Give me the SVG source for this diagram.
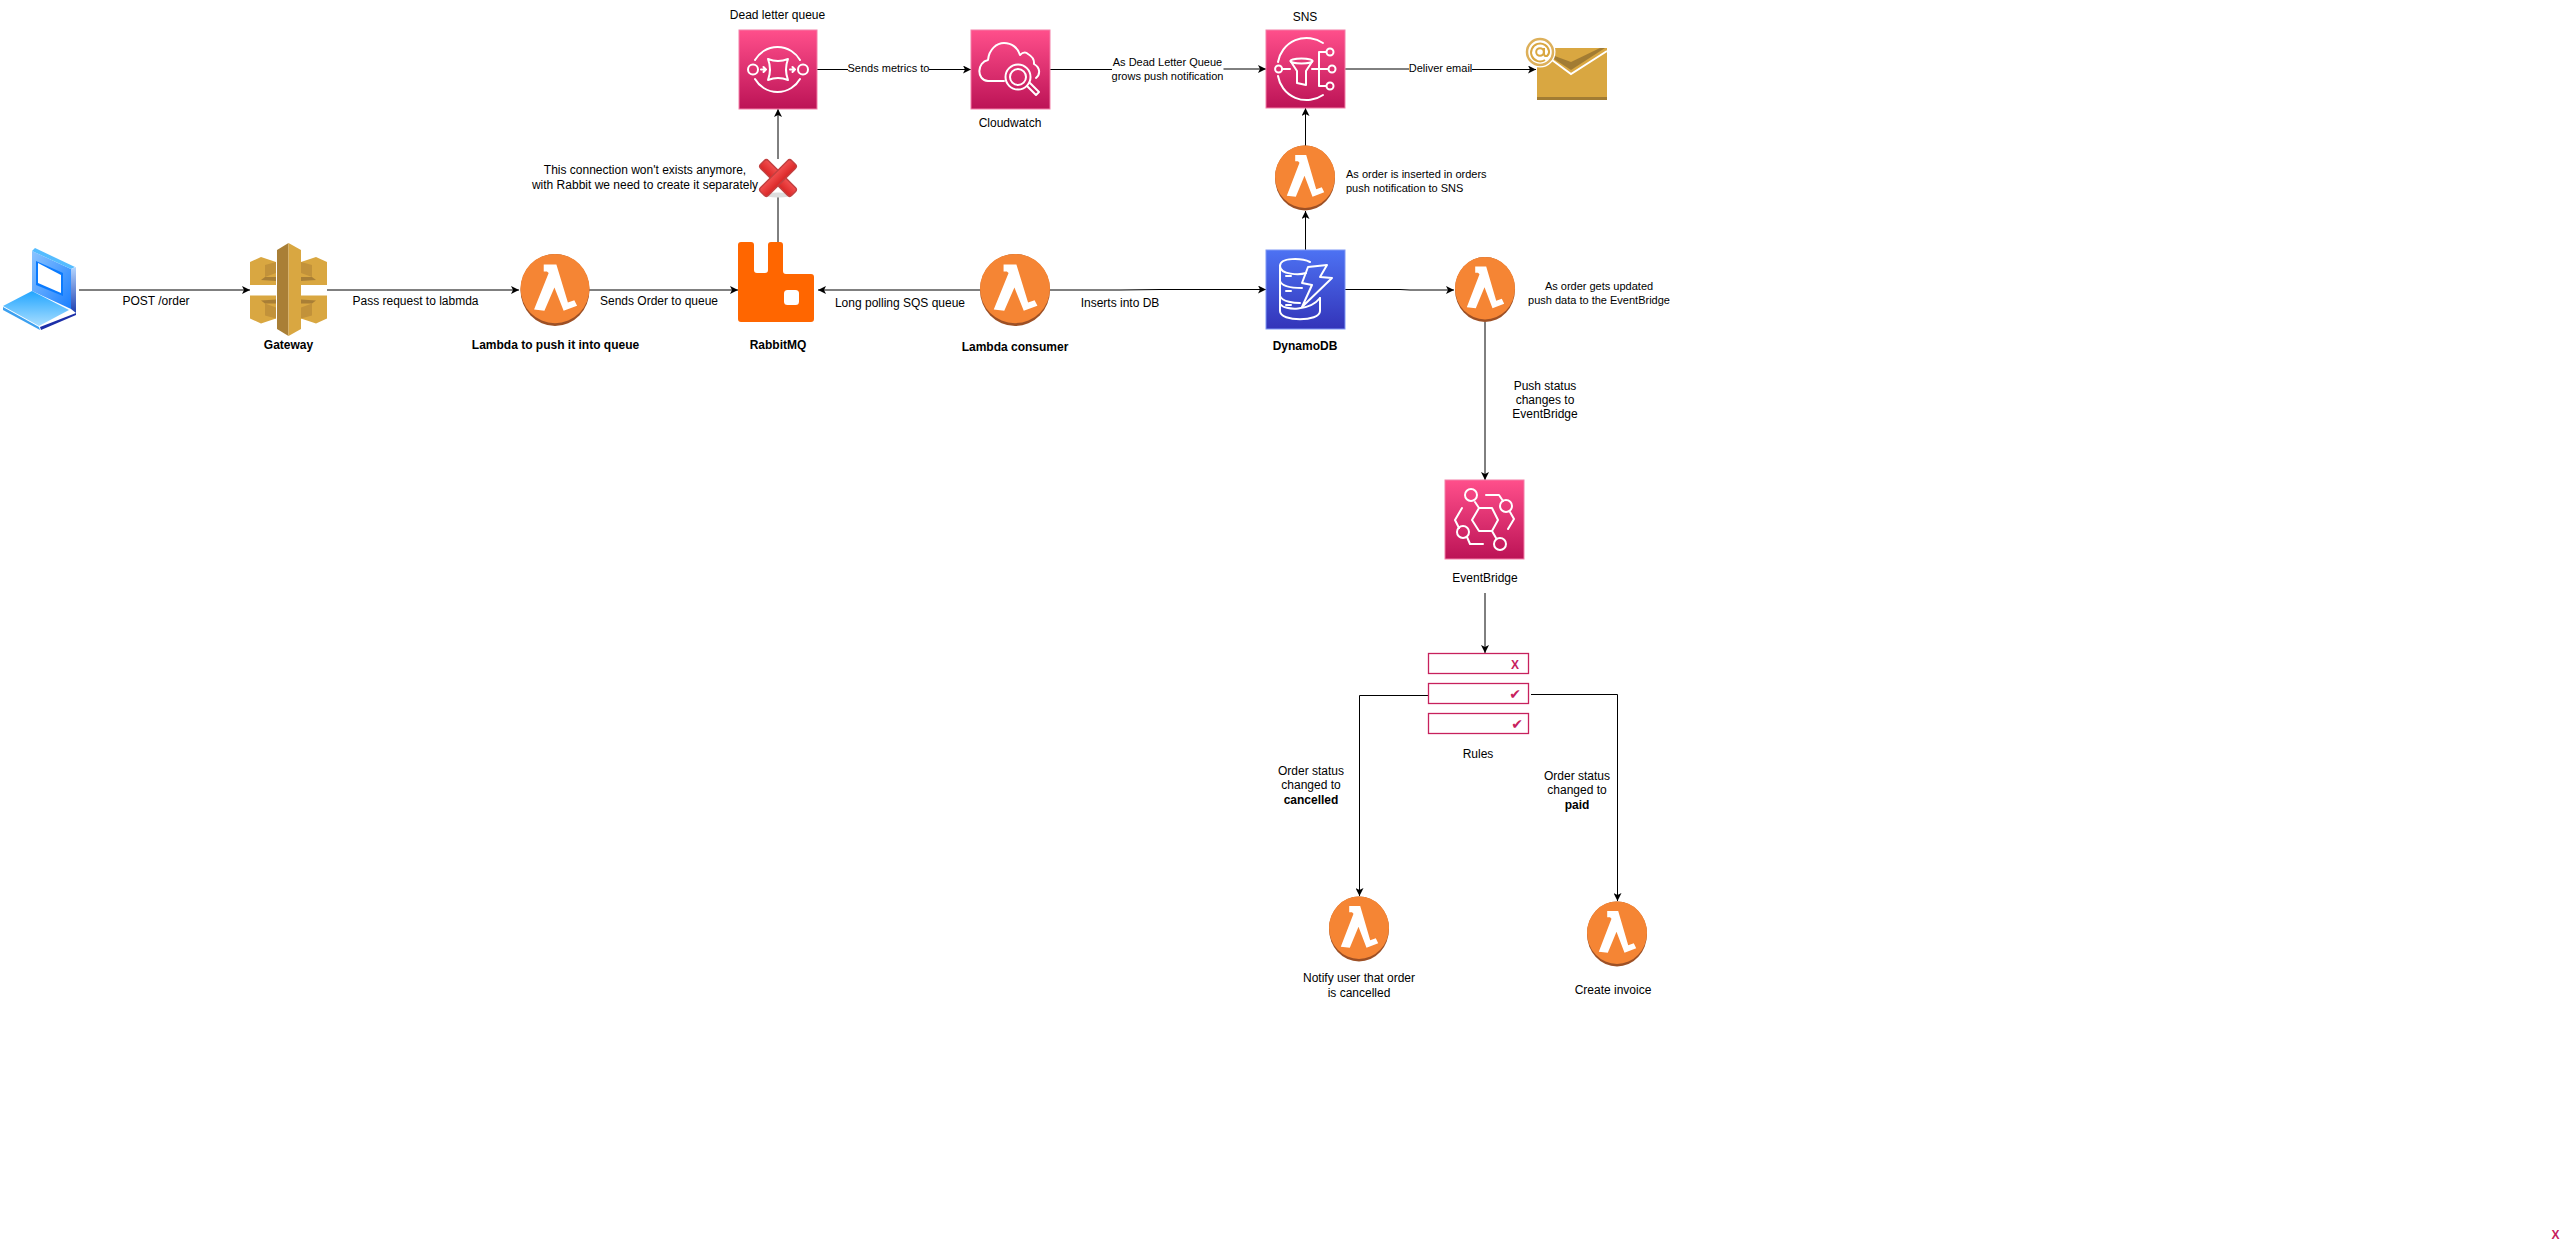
<svg xmlns="http://www.w3.org/2000/svg" xmlns:xlink="http://www.w3.org/1999/xlink" width="2571" height="1251" viewBox="0 0 2571 1251">
<style>
text{font-family:"Liberation Sans",Arial,sans-serif;font-size:12px;fill:#000;text-anchor:middle}
.b{font-weight:bold}
.s{font-size:11px}
.l{text-anchor:start}
.c{fill:none;stroke:#000;stroke-width:1;marker-end:url(#ah)}
.ic{fill:none;stroke:#fff;stroke-width:2;stroke-linejoin:round;stroke-linecap:round}
.pink{fill:url(#gp);stroke:#f47fa8;stroke-width:1}
.rule{fill:#fff;stroke:#C7215D;stroke-width:1.3}
.mk{fill:#C7215D;font-weight:bold}
.ck{font-family:"DejaVu Sans",sans-serif;font-size:14px;font-weight:bold;fill:#C7215D}
</style>
<defs>
<marker id="ah" markerUnits="userSpaceOnUse" markerWidth="8" markerHeight="8" refX="8" refY="4" orient="auto"><path d="M8,4 L0,0 L2,4 L0,8 Z" fill="#000"/></marker>
<linearGradient id="gp" x1="0" y1="0" x2="0" y2="1"><stop offset="0" stop-color="#FF4F8B"/><stop offset="1" stop-color="#BC1356"/></linearGradient>
<linearGradient id="gb" x1="0" y1="0" x2="0" y2="1"><stop offset="0" stop-color="#4D72F3"/><stop offset="1" stop-color="#3334B9"/></linearGradient>
<linearGradient id="lp1" x1="0" y1="0" x2="1" y2="1"><stop offset="0" stop-color="#8CC4FF"/><stop offset="1" stop-color="#1A7FFF"/></linearGradient>
<linearGradient id="lp2" x1="0" y1="0" x2="0" y2="1"><stop offset="0" stop-color="#B5D6FF"/><stop offset="1" stop-color="#1F3FB0"/></linearGradient>
<linearGradient id="lp3" x1="0" y1="0" x2="0" y2="1"><stop offset="0" stop-color="#22A5FF"/><stop offset="1" stop-color="#A8DEFF"/></linearGradient>
<linearGradient id="xr" x1="0" y1="0" x2="0" y2="1"><stop offset="0" stop-color="#F25050"/><stop offset="1" stop-color="#D92525"/></linearGradient>
<g id="lam">
<ellipse cx="0" cy="0" rx="30" ry="32.5" fill="#9D5025"/>
<ellipse cx="0" cy="-1.3" rx="30" ry="31.2" fill="#F58534"/>
<path fill="#fff" d="M-9.8,-23 L1.2,-23 L11.2,11.3 L16.8,9.3 L19.2,14.3 L7.5,18.7 L-.5,-2.3 L-9.2,18.7 L-18.2,17.7 L-5.5,-15.3 L-7,-16.7 L-9.8,-16.7 Z"/>
</g>
<g id="arm">
<path fill="#D9A741" d="M301,262 L316,257 L327,262 L327,285 L301,285 Z"/>
<path fill="#C2923A" d="M301,262 L312,265 L312,277 L301,273 Z"/>
<path fill="#A97F36" d="M301,277 L312,277 L316,280 L301,281 Z"/>
</g>
</defs>
<rect width="2571" height="1251" fill="#fff"/>

<g id="connectors">
<path class="c" d="M79,290 L250,290"/>
<path class="c" d="M327,290 L519,290"/>
<path class="c" d="M589,290 L738,290"/>
<path class="c" d="M778,242 L778,109"/>
<path class="c" d="M980,290 L818,290"/>
<path class="c" d="M1050,290 L1120,290 L1160,289.5 L1266,289.5"/>
<path class="c" d="M817,69.5 L971,69.5"/>
<path class="c" d="M1050,69.5 L1150,69.5 L1170,69 L1266,69"/>
<path class="c" d="M1345,69 L1440,69 L1460,69.5 L1536,69.5"/>
<path class="c" d="M1305.5,146 L1305.5,108"/>
<path class="c" d="M1305.5,250 L1305.5,211"/>
<path class="c" d="M1345,289.5 L1400,289.5 L1410,290 L1454,290"/>
<path class="c" d="M1485,322 L1485,480"/>
<path class="c" d="M1485,593 L1485,653"/>
<path class="c" d="M1428,695.5 L1359.5,695.5 L1359.5,896"/>
<path class="c" d="M1531,694.5 L1617.5,694.5 L1617.5,901"/>
</g>

<g id="connector-labels">
<rect x="848" y="60" width="81" height="16" fill="#fff"/>
<text x="888.500" y="72" class="s">Sends metrics to</text>
<rect x="1112" y="54" width="111.500" height="30" fill="#fff"/>
<text x="1167.500" y="66" class="s">As Dead Letter Queue</text>
<text x="1167.500" y="80" class="s">grows push notification</text>
<rect x="1409" y="60" width="63" height="16" fill="#fff"/>
<text x="1440.500" y="72" class="s">Deliver email</text>
<text x="156" y="305">POST /order</text>
<text x="415.500" y="305">Pass request to labmda</text>
<text x="659" y="305">Sends Order to queue</text>
<text x="900" y="307">Long polling SQS queue</text>
<text x="1120" y="307">Inserts into DB</text>
<text x="1545" y="390">Push status</text>
<text x="1545" y="404">changes to</text>
<text x="1545" y="418">EventBridge</text>
<text x="1311" y="775">Order status</text>
<text x="1311" y="789">changed to</text>
<text x="1311" y="804" class="b">cancelled</text>
<text x="1577" y="780">Order status</text>
<text x="1577" y="794">changed to</text>
<text x="1577" y="809" class="b">paid</text>
</g>

<g id="client">
<path fill="url(#lp1)" d="M32,251 L71,269 L71,309 L32,291 Z"/>
<path fill="#0A7BFF" d="M36,261 L63,273 L63,296 L36,285 Z"/>
<path fill="#fff" d="M38,263 L61,275 L61,293 L38,283 Z"/>
<path fill="#55BCFF" d="M35,248 L75,267 L71,269 L32,251 Z"/>
<path fill="url(#lp2)" d="M71,269 L76,267 L76,313 L71,309 Z"/>
<path fill="url(#lp3)" d="M32,291 L3,306 L39,326 L69,310 Z"/>
<path fill="#3CA0F0" d="M3,307 L39,327 L40,330 L3,310 Z"/>
<path fill="#1C2FA8" d="M40,327 L76,313 L76,315 L41,330 Z"/>
</g>

<g id="gateway">
<use xlink:href="#arm" href="#arm"/>
<use xlink:href="#arm" href="#arm" transform="translate(577,0) scale(-1,1)"/>
<use xlink:href="#arm" href="#arm" transform="translate(0,580.500) scale(1,-1)"/>
<use xlink:href="#arm" href="#arm" transform="translate(577,580.500) scale(-1,-1)"/>
<path fill="#A97F36" d="M277,250 L288.500,243 L288.500,336 L277,329 Z"/>
<path fill="#D9A741" d="M301,250 L288.500,243 L288.500,336 L301,329 Z"/>
<text x="288.500" y="349" class="b">Gateway</text>
</g>

<g id="lambda-push">
<use xlink:href="#lam" href="#lam" transform="translate(555,290) scale(1.15,1.108)"/>
<text x="555.500" y="349" class="b">Lambda to push it into queue</text>
</g>

<g id="rabbitmq">
<path fill="#FF6600" d="M741,242 L751,242 Q754,242 754,245 L754,270 Q754,273 757,273 L765,273 Q768,273 768,270 L768,245 Q768,242 771,242 L780,242 Q783,242 783,245 L783,271 Q783,274 786,274 L811,274 Q814,274 814,277 L814,319 Q814,322 811,322 L741,322 Q738,322 738,319 L738,245 Q738,242 741,242 Z"/>
<rect x="784" y="290" width="15" height="15" rx="3.500" fill="#fff"/>
<text x="778" y="349" class="b">RabbitMQ</text>
</g>

<g id="lambda-consumer">
<use xlink:href="#lam" href="#lam" transform="translate(1015,290) scale(1.167,1.108)"/>
<text x="1015" y="351" class="b">Lambda consumer</text>
</g>

<g id="dynamodb">
<rect x="1266" y="250" width="79" height="79" fill="url(#gb)" stroke="#7F97F5" stroke-width="1"/>
<g class="ic">
<path d="M1310,262 C1302,258 1280,257 1280,266 L1280,311 C1280,322 1320,322 1320,311 L1320,298"/>
<path d="M1280,266 C1280,275 1300,275 1306,273"/>
<path d="M1280,281 C1282,287 1295,288 1302,288"/>
<path d="M1280,296 C1282,302 1295,303 1300,303"/>
<path d="M1280,304 C1285,311 1310,311 1320,298"/>
<path d="M1286,276 L1291,276 M1286,291 L1291,291 M1286,305 L1291,305"/>
<path d="M1308,267 L1327,265 L1320,277 L1332,278 L1302,307 L1312,285 L1302,283 Z"/>
</g>
<text x="1305" y="350" class="b">DynamoDB</text>
</g>

<g id="lambda-update">
<use xlink:href="#lam" href="#lam"  transform="translate(1485,289.500)"/>
<text x="1599" y="290" class="s">As order gets updated</text>
<text x="1599" y="304" class="s">push data to the EventBridge</text>
</g>

<g id="lambda-sns">
<use xlink:href="#lam" href="#lam" transform="translate(1305,178)"/>
<text x="1346" y="178" class="s l">As order is inserted in orders</text>
<text x="1346" y="192" class="s l">push notification to SNS</text>
</g>

<g id="cross">
<rect x="761" y="159" width="34" height="38" fill="#fff"/>
<ellipse cx="778" cy="195" rx="14" ry="2.500" fill="#ddd"/>
<g fill="url(#xr)" stroke="#C24040" stroke-width="1.500">
<rect x="756" y="172.500" width="44" height="11" rx="3" transform="rotate(45 778 178)"/>
<rect x="756" y="172.500" width="44" height="11" rx="3" transform="rotate(-45 778 178)"/>
</g>
<text x="645" y="174">This connection won't exists anymore,</text>
<text x="645" y="189">with Rabbit we need to create it separately</text>
</g>

<g id="sqs">
<rect class="pink" x="739" y="30" width="78" height="79"/>
<g class="ic">
<path d="M755,60 A26,26 0 0 1 800,60"/>
<path d="M755,79 A26,26 0 0 0 800,79"/>
<circle cx="753" cy="69.500" r="5"/>
<circle cx="803" cy="69.500" r="5"/>
<path d="M768,59 Q778,63 788,59 Q784,69.500 788,80 Q778,76 768,80 Q772,69.500 768,59 Z"/>
<path d="M761,69.500 L766,69.500 M763.500,67 L766,69.500 L763.500,72 M790,69.500 L795,69.500 M792.500,67 L795,69.500 L792.500,72"/>
</g>
<text x="777.500" y="19">Dead letter queue</text>
</g>

<g id="cloudwatch">
<rect class="pink" x="971" y="30" width="79" height="79"/>
<g class="ic">
<path d="M1004,81 L988,81 C976,80 977,62 988,60 C989,49 997,43 1004,43 C1012,43 1018,48 1020,55 C1023,52 1026,52 1028,54 C1035,58 1034,63 1034,64 C1041,68 1040,75 1036,78"/>
<circle cx="1018" cy="77" r="12.500"/>
<circle cx="1018" cy="77" r="8"/>
<path d="M1027,86 L1036,95 L1039,92 L1030,83"/>
</g>
<text x="1010" y="127">Cloudwatch</text>
</g>

<g id="sns">
<rect class="pink" x="1266" y="30" width="79" height="78"/>
<g class="ic">
<path d="M1323,43 A29,29 0 0 0 1278,62 M1278,76 A29,29 0 0 0 1323,95"/>
<circle cx="1278.600" cy="69" r="3.500"/>
<path d="M1282,69 L1290,69"/>
<ellipse cx="1301.500" cy="61" rx="11" ry="2.500"/>
<path d="M1290.500,61 L1297,71 L1297,83 L1306,85 L1306,71 L1312.500,61"/>
<path d="M1312,69 L1328,69 M1319,52 L1319,86 M1319,52 L1326,52 M1319,86 L1326,86"/>
<circle cx="1330" cy="52" r="3.500"/>
<circle cx="1332" cy="69" r="3.500"/>
<circle cx="1330" cy="86" r="3.500"/>
</g>
<text x="1305" y="21">SNS</text>
</g>

<g id="email">
<rect x="1537" y="48" width="70" height="52" fill="#D9A741"/>
<rect x="1537" y="97" width="70" height="3" fill="#A27C33"/>
<path fill="#A27C33" d="M1537,48 L1605,48 L1571,70 Z"/>
<path fill="#D9A741" d="M1537,48 L1600,48 L1571,62 L1552,55 Z"/>
<path fill="none" stroke="#fff" stroke-width="2" d="M1552,60 L1571,74 L1607,51"/>
<circle cx="1540" cy="52" r="15.500" fill="#fff"/>
<circle cx="1540" cy="52" r="13" fill="#fff" stroke="#DDB05A" stroke-width="2.500"/>
<circle cx="1540" cy="52" r="3.800" fill="none" stroke="#D9A741" stroke-width="2"/>
<path fill="none" stroke="#D9A741" stroke-width="2" d="M1544,48 L1544,54 Q1544.500,56.500 1547,56 Q1549.500,54 1549,51 A9,9 0 1 0 1545,60"/>
</g>

<g id="eventbridge">
<rect class="pink" x="1445" y="480" width="79" height="79"/>
<g class="ic">
<path d="M1472,520 L1479,508 L1492,508 L1498,520 L1492,531 L1479,531 Z"/>
<circle cx="1471" cy="495" r="6"/>
<circle cx="1506" cy="506" r="6"/>
<circle cx="1463" cy="532" r="6"/>
<circle cx="1500" cy="544" r="6"/>
<path d="M1475,502 L1479,508 M1492,531 L1496,538 M1486,495 L1499,495 L1503,501 M1510,512 L1514,519 L1508,529 M1462,508 L1455,520 L1459,528 M1467,537 L1470,544 L1483,544"/>
</g>
<text x="1485" y="582">EventBridge</text>
</g>

<g id="rules">
<rect class="rule" x="1428.500" y="653.500" width="100" height="20"/>
<rect class="rule" x="1428.500" y="683.500" width="100" height="20"/>
<rect class="rule" x="1428.500" y="713.500" width="100" height="20"/>
<text x="1515" y="668.500" class="mk">X</text>
<text x="1515" y="699" class="ck">✔</text>
<text x="1517" y="729" class="ck">✔</text>
<text x="1478" y="758">Rules</text>
</g>

<g id="lambda-notify">
<use xlink:href="#lam" href="#lam" transform="translate(1359,929)"/>
<text x="1359" y="982">Notify user that order</text>
<text x="1359" y="997">is cancelled</text>
</g>

<g id="lambda-invoice">
<use xlink:href="#lam" href="#lam" transform="translate(1617,934)"/>
<text x="1613" y="994">Create invoice</text>
</g>

<g id="stray-mark">
<text x="2555.500" y="1239" class="mk">X</text>
</g>
</svg>
